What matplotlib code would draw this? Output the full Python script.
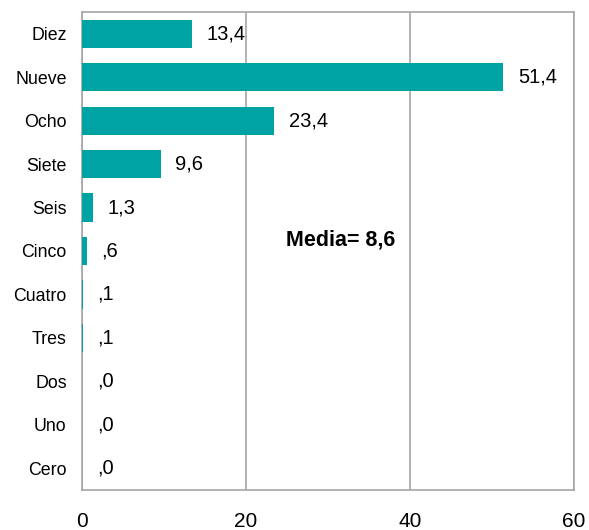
import matplotlib
matplotlib.use("Agg")
import matplotlib.pyplot as plt

categories = ["Diez", "Nueve", "Ocho", "Siete", "Seis", "Cinco",
              "Cuatro", "Tres", "Dos", "Uno", "Cero"]
values = [13.4, 51.4, 23.4, 9.6, 1.3, 0.6, 0.1, 0.1, 0.0, 0.0, 0.0]
mean_text = "Media= 8,6"


def fmt(v):
    s = f"{v:.1f}".replace(".", ",")
    if s.startswith("0,"):
        s = s[1:]
    return s


plt.rcParams["font.family"] = ["Liberation Sans", "DejaVu Sans"]

fig = plt.figure(figsize=(5.89, 5.30), dpi=100)
ax = fig.add_axes([82 / 589, 1 - 490 / 530, (574 - 82) / 589, (490 - 12) / 530])

y = list(range(len(categories)))
ax.barh(y, values, height=0.65, color="#00A3A3", zorder=3)
ax.set_ylim(len(categories) - 0.5, -0.5)
ax.set_xlim(0, 60)
ax.set_xticks([0, 20, 40, 60])
ax.set_yticks(y)
ax.set_yticklabels(categories, fontsize=12.8)
ax.tick_params(axis="x", labelsize=15, length=0, pad=16)
ax.tick_params(axis="y", length=0, pad=11)
ax.xaxis.grid(True, color="#A6A6A6", linewidth=1.2, zorder=0)

for s in ax.spines.values():
    s.set_color("#A6A6A6")
    s.set_linewidth(1.2)

for yi, v in zip(y, values):
    ax.text(v + 1.8, yi, fmt(v), va="center", ha="left", fontsize=14.5)

ax.text(31.6, 4.75, mean_text, ha="center", va="center",
        fontsize=15.5, fontweight="bold")

fig.savefig("out.png", dpi=100)
